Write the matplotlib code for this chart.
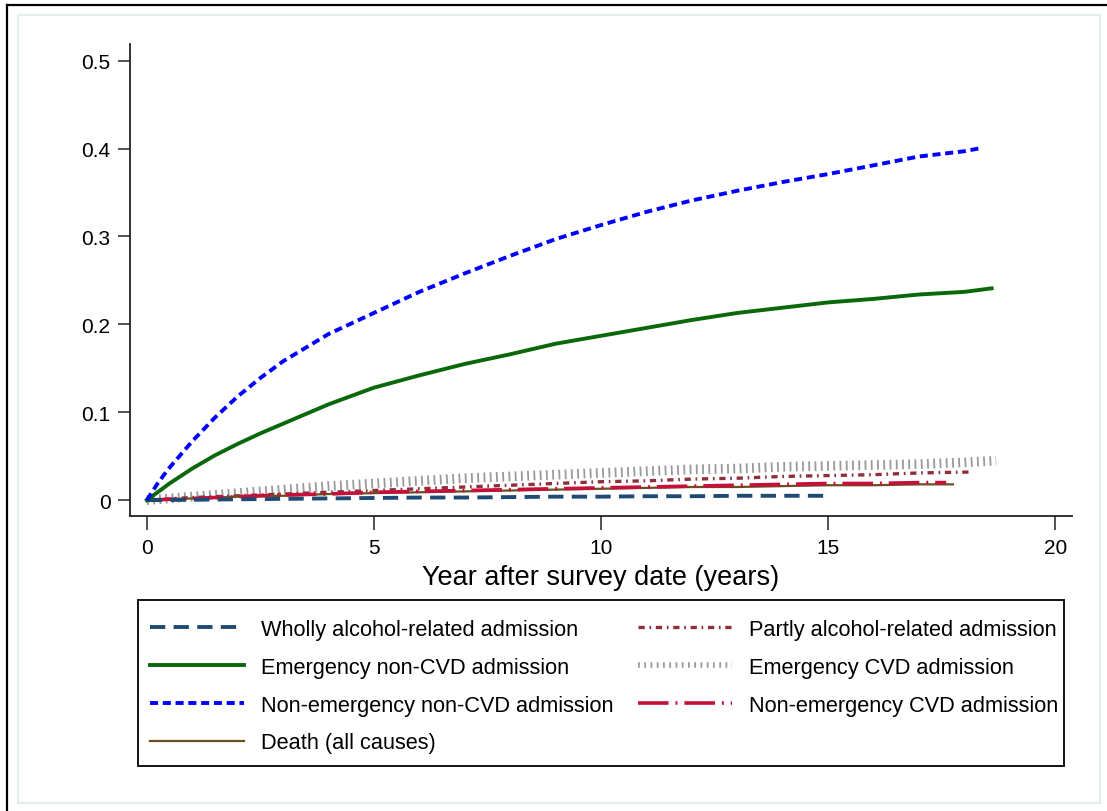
import matplotlib
matplotlib.use("Agg")
import matplotlib.pyplot as plt
from matplotlib.lines import Line2D
from matplotlib.patches import Rectangle

plt.rcParams['font.family'] = ['Liberation Sans', 'DejaVu Sans']
plt.rcParams['lines.scale_dashes'] = False

# ---- data (cumulative incidence by years after survey date) ----
t_wholly = [0, 1, 2, 3, 4, 5, 6, 7, 8, 9, 10, 11, 12, 13, 14, 15]
y_wholly = [0, 0.0005, 0.001, 0.0015, 0.002, 0.0025, 0.003, 0.003, 0.0035, 0.004,
            0.004, 0.0045, 0.0045, 0.005, 0.005, 0.005]

t_partly = [0, 1, 2, 3, 4, 5, 6, 7, 8, 9, 10, 11, 12, 13, 14, 15, 16, 17, 18.1]
y_partly = [0, 0.003, 0.005, 0.007, 0.009, 0.011, 0.013, 0.015, 0.017, 0.019, 0.021,
            0.022, 0.024, 0.025, 0.027, 0.028, 0.029, 0.031, 0.032]

t_em_noncvd = [0, 0.5, 1, 1.5, 2, 2.5, 3, 4, 5, 6, 7, 8, 9, 10, 11, 12, 13, 14, 15,
               16, 17, 18, 18.6]
y_em_noncvd = [0, 0.019, 0.036, 0.051, 0.064, 0.076, 0.087, 0.109, 0.128, 0.142, 0.155,
               0.166, 0.178, 0.187, 0.196, 0.205, 0.213, 0.219, 0.225, 0.229, 0.234,
               0.237, 0.241]

t_em_cvd = [0, 1, 2, 3, 4, 5, 6, 7, 8, 9, 10, 11, 12, 13, 14, 15, 16, 17, 18, 18.7]
y_em_cvd = [0, 0.004, 0.008, 0.012, 0.016, 0.019, 0.022, 0.025, 0.027, 0.029, 0.031,
            0.033, 0.035, 0.036, 0.038, 0.039, 0.040, 0.041, 0.043, 0.045]

t_nonem_noncvd = [0, 0.25, 0.5, 1, 1.5, 2, 2.5, 3, 4, 5, 6, 7, 8, 9, 10, 11, 12, 13,
                  14, 15, 16, 17, 18, 18.4]
y_nonem_noncvd = [0, 0.02, 0.037, 0.067, 0.094, 0.118, 0.139, 0.158, 0.189, 0.213,
                  0.237, 0.258, 0.278, 0.297, 0.313, 0.328, 0.341, 0.352, 0.362,
                  0.371, 0.381, 0.391, 0.397, 0.401]

t_nonem_cvd = [0, 1, 2, 3, 4, 5, 6, 7, 8, 9, 10, 11, 12, 13, 14, 15, 16, 17, 17.6]
y_nonem_cvd = [0, 0.002, 0.004, 0.006, 0.007, 0.009, 0.010, 0.011, 0.012, 0.013,
               0.014, 0.015, 0.016, 0.017, 0.018, 0.019, 0.019, 0.020, 0.020]

t_death = [0, 1, 2, 3, 4, 5, 6, 7, 8, 9, 10, 11, 12, 13, 14, 15, 16, 17, 17.75]
y_death = [0, 0.002, 0.004, 0.005, 0.007, 0.008, 0.009, 0.010, 0.011, 0.012, 0.013,
           0.014, 0.015, 0.015, 0.016, 0.017, 0.017, 0.018, 0.018]

labels = ["Wholly alcohol-related admission", "Partly alcohol-related admission",
          "Emergency non-CVD admission", "Emergency CVD admission",
          "Non-emergency non-CVD admission", "Non-emergency CVD admission",
          "Death (all causes)"]

x_ticks = [0, 5, 10, 15, 20]
y_ticks = [0, 0.1, 0.2, 0.3, 0.4, 0.5]
y_ticklabels = ["0", "0.1", "0.2", "0.3", "0.4", "0.5"]
x_label = "Year after survey date (years)"

W, H = 1107, 812
fig = plt.figure(figsize=(W / 100, H / 100), dpi=100)
fig.patch.set_facecolor('white')

# outer frame and inner graph-region border
fig.add_artist(Line2D([7 / W, 7 / W], [0, 1 - 6 / H], color='black', lw=1.6,
                      transform=fig.transFigure))
fig.add_artist(Line2D([7 / W, 1], [1 - 6 / H, 1 - 6 / H], color='black', lw=1.6,
                      transform=fig.transFigure))
fig.add_artist(Rectangle((18 / W, 1 - 804 / H), (1100 - 18) / W, (804 - 16) / H,
                         fill=False, edgecolor='#e4eeee', lw=1.6,
                         transform=fig.transFigure))

ax = fig.add_axes([130 / W, 1 - 517 / H, (1072 - 130) / W, (517 - 45) / H])
ax.set_xlim(-0.37, 20.37)
ax.set_ylim(-0.018, 0.519)

styles = {
    'wholly': dict(color='#1f4a73', lw=2.8, dashes=(11, 6)),
    'partly': dict(color='#8e2f3c', lw=2.4, dashes=(4.5, 3.4, 1.2, 3.4)),
    'em_noncvd': dict(color='#0a680a', lw=2.8),
    'em_cvd': dict(color='#9a9a9a', lw=7.0, dashes=(1.3, 3.2)),
    'nonem_noncvd': dict(color='#0000ff', lw=2.8, dashes=(5.8, 3.4)),
    'nonem_cvd': dict(color='#c4103a', lw=2.6, dashes=(22, 5, 1.4, 5)),
    'death': dict(color='#6b4f1d', lw=1.6),
}

h = {}
h['em_cvd'], = ax.plot(t_em_cvd, y_em_cvd, solid_capstyle='butt',
                       dash_capstyle='butt', **styles['em_cvd'])
h['partly'], = ax.plot(t_partly, y_partly, dash_capstyle='butt', **styles['partly'])
h['death'], = ax.plot(t_death, y_death, **styles['death'])
h['nonem_cvd'], = ax.plot(t_nonem_cvd, y_nonem_cvd, dash_capstyle='butt',
                          **styles['nonem_cvd'])
h['wholly'], = ax.plot(t_wholly, y_wholly, dash_capstyle='butt', **styles['wholly'])
h['em_noncvd'], = ax.plot(t_em_noncvd, y_em_noncvd, **styles['em_noncvd'])
h['nonem_noncvd'], = ax.plot(t_nonem_noncvd, y_nonem_noncvd, dash_capstyle='butt',
                             **styles['nonem_noncvd'])

for s in ['top', 'right']:
    ax.spines[s].set_visible(False)
for s in ['left', 'bottom']:
    ax.spines[s].set_color('#222222')
    ax.spines[s].set_linewidth(1.3)

ax.set_xticks(x_ticks)
ax.set_xticklabels([str(v) for v in x_ticks])
ax.set_yticks(y_ticks)
ax.set_yticklabels(y_ticklabels)
ax.tick_params(axis='x', length=10, width=1.3, color='#444444', labelsize=15, pad=6)
ax.tick_params(axis='y', length=9, width=1.3, color='#444444', labelsize=15, pad=5)
ax.set_xlabel(x_label, fontsize=19.5, labelpad=5)

# legend frame drawn separately for exact placement
fig.add_artist(Rectangle((138 / W, 1 - 767 / H), (1064 - 138) / W, (767 - 601) / H,
                         fill=True, facecolor='white', edgecolor='black', lw=1.3,
                         transform=fig.transFigure, zorder=1))

# legend (column-major: left column first)
order = ['wholly', 'em_noncvd', 'nonem_noncvd', 'death', 'partly', 'em_cvd', 'nonem_cvd']
lab_map = dict(zip(['wholly', 'partly', 'em_noncvd', 'em_cvd', 'nonem_noncvd',
                    'nonem_cvd', 'death'], labels))
leg_handles = []
for k in order:
    st = dict(styles[k])
    if k == 'em_cvd':
        st['lw'] = 4.0
    leg_handles.append(Line2D([0], [0], dash_capstyle='butt', **st))
leg = fig.legend(leg_handles, [lab_map[k] for k in order], ncol=2,
                 loc='upper left',
                 bbox_to_anchor=(150 / W, 1 - 620 / H, (1058 - 150) / W, 0),
                 mode='expand', fontsize=15.7, frameon=False,
                 handlelength=4.3, handletextpad=0.78,
                 labelspacing=0.77, borderpad=0, borderaxespad=0)
leg.set_zorder(2)

fig.savefig('out.png', dpi=100, facecolor='white')
